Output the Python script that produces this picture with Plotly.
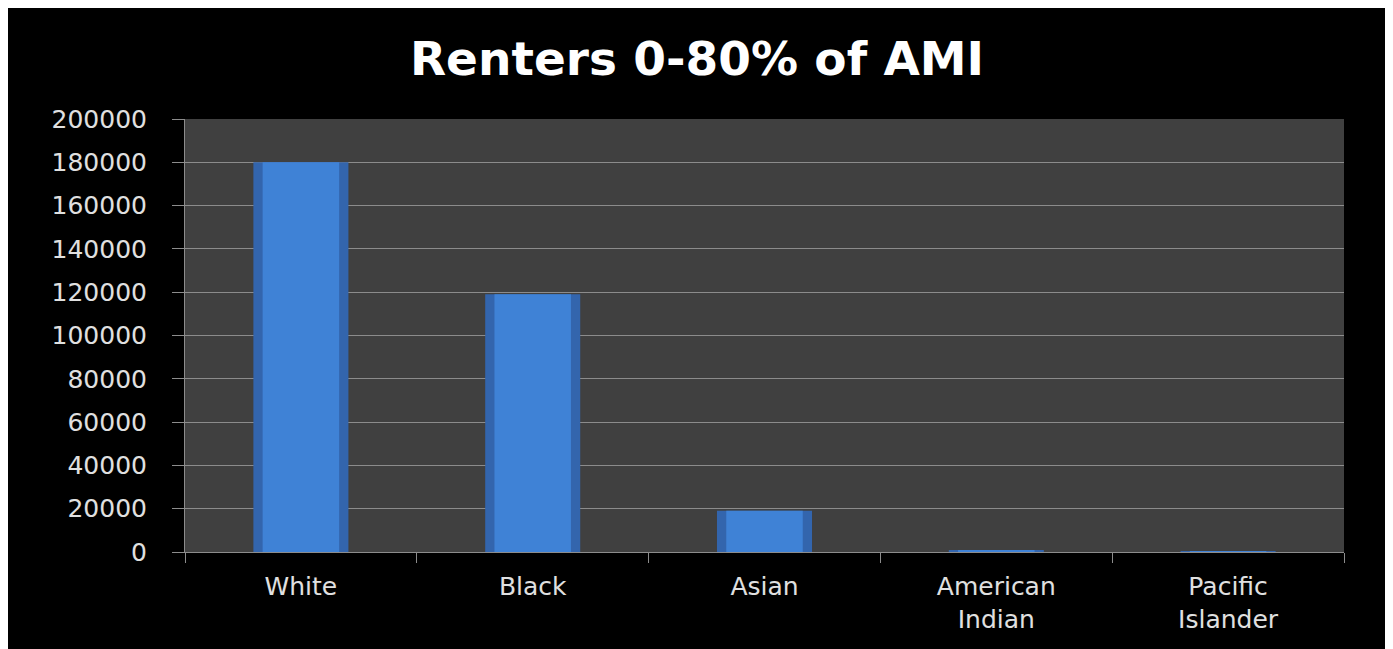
import plotly.graph_objects as go

categories = ["White", "Black", "Asian", "American<br>Indian", "Pacific<br>Islander"]
values = [180000, 119000, 19000, 800, 300]
y_ticks = [0, 20000, 40000, 60000, 80000, 100000, 120000, 140000, 160000, 180000, 200000]

W, H = 1378, 641
L, R, T, B = 177, 42, 111, 97

fig = go.Figure()
fig.add_trace(go.Bar(
    x=categories, y=values, width=0.41,
    marker=dict(color="#3365ad", line=dict(width=0)),
    hoverinfo="x+y", showlegend=False,
))
fig.add_trace(go.Bar(
    x=categories, y=values, width=0.33,
    marker=dict(color="#3f82d6", line=dict(width=0)),
    hoverinfo="skip", showlegend=False,
))

grid = "#8c8c8c"
fig.update_layout(
    width=W, height=H,
    margin=dict(l=L, r=R, t=T, b=B, pad=0),
    paper_bgcolor="#000000",
    plot_bgcolor="#404040",
    barmode="overlay",
    title=dict(
        text="<b>Renters 0-80% of AMI</b>",
        x=0.5, xref="container", xanchor="center",
        y=(H - 51) / H, yanchor="middle",
        font=dict(family="DejaVu Sans", size=47, color="#ffffff"),
    ),
    font=dict(family="DejaVu Sans", color="#e0e0e0"),
    xaxis=dict(
        tickson="boundaries", ticks="outside", ticklen=10, tickcolor=grid,
        showline=True, linecolor=grid, linewidth=1,
        showgrid=False,
        tickfont=dict(size=25, color="#e0e0e0"),
        ticklabelstandoff=12,
    ),
    yaxis=dict(
        range=[0, 200000], tickvals=y_ticks,
        ticktext=[str(v) for v in y_ticks],
        ticks="outside", ticklen=12, tickcolor=grid,
        showline=True, linecolor=grid, linewidth=1,
        showgrid=True, gridcolor=grid, gridwidth=1,
        zeroline=False,
        tickfont=dict(size=25, color="#e0e0e0"),
        ticklabelstandoff=20,
    ),
)

fig.write_html("out.html")
